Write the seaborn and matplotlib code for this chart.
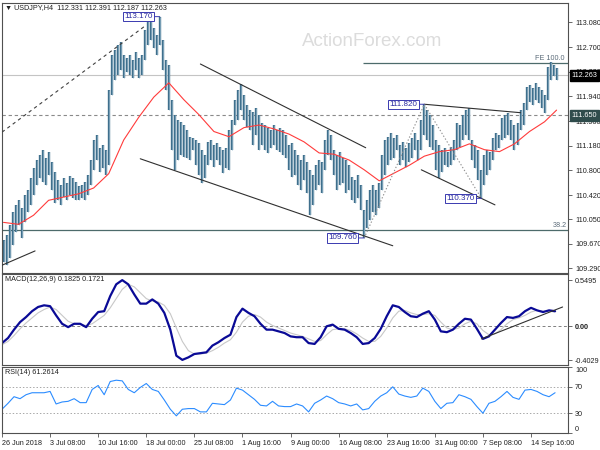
import numpy as np
import pandas as pd
import matplotlib
matplotlib.use("Agg")
import matplotlib.pyplot as plt
import seaborn as sns

# H4 price bars, one entry for every second candle (high / low)
bar_high = [
    109.73, 109.80, 109.96, 110.16, 110.27, 110.34, 110.22, 110.42, 110.50, 110.68,
    110.84, 110.96, 111.04, 111.12, 110.99, 111.09, 110.93, 110.78, 110.65, 110.58,
    110.68, 110.61, 110.71, 110.68, 110.62, 110.56, 110.58, 110.62, 110.73, 110.96,
    111.27, 111.35, 111.15, 111.19, 111.12, 112.04, 112.58, 112.66, 112.74, 112.78,
    112.58, 112.53, 112.58, 112.50, 112.63, 112.53, 112.58, 112.97, 113.12, 113.12,
    113.00, 112.89, 113.17, 112.81, 112.50, 112.43, 111.89, 111.66, 111.58, 111.55,
    111.50, 111.42, 111.32, 111.30, 111.27, 111.22, 111.12, 111.04, 111.24, 111.27,
    111.19, 111.22, 111.16, 111.12, 111.15, 111.42, 111.58, 111.89, 112.04, 112.13,
    111.96, 111.81, 111.73, 111.70, 111.76, 111.66, 111.53, 111.50, 111.46, 111.42,
    111.50, 111.42, 111.46, 111.42, 111.35, 111.19, 111.22, 111.12, 111.04, 110.96,
    111.04, 110.93, 110.81, 110.73, 110.88, 110.96, 110.93, 111.27, 111.42, 111.35,
    111.12, 111.04, 111.09, 110.99, 110.96, 110.88, 110.70, 110.65, 110.73, 110.58,
    110.19, 110.34, 110.50, 110.58, 110.50, 110.61, 111.04, 111.27, 111.32, 111.38,
    111.30, 111.35, 111.19, 111.24, 111.15, 111.22, 111.30, 111.38, 111.27, 111.58,
    111.82, 111.73, 111.66, 111.50, 111.27, 111.19, 111.12, 111.15, 111.09, 111.16,
    111.27, 111.53, 111.50, 111.66, 111.73, 111.76, 111.27, 111.19, 111.12, 110.81,
    111.04, 111.12, 111.09, 111.30, 111.38, 111.35, 111.61, 111.66, 111.69, 111.58,
    111.50, 111.53, 111.73, 111.84, 112.09, 112.12, 112.07, 112.15, 112.09, 112.04,
    111.96, 112.40, 112.47, 112.43, 112.38,
]
bar_low = [
    109.39, 109.34, 109.45, 109.65, 109.85, 109.96, 109.76, 110.00, 110.16, 110.27,
    110.42, 110.58, 110.68, 110.62, 110.58, 110.73, 110.50, 110.30, 110.34, 110.27,
    110.39, 110.34, 110.42, 110.37, 110.34, 110.34, 110.37, 110.34, 110.42, 110.58,
    110.81, 110.96, 110.78, 110.84, 110.73, 110.88, 111.96, 112.20, 112.27, 112.35,
    112.23, 112.32, 112.27, 112.23, 112.35, 112.23, 112.27, 112.50, 112.74, 112.81,
    112.69, 112.58, 112.74, 112.35, 112.04, 111.73, 111.12, 110.81, 110.96, 111.04,
    111.01, 110.99, 110.96, 111.12, 110.88, 110.73, 110.61, 110.68, 110.88, 110.96,
    110.85, 110.96, 110.88, 110.76, 110.84, 110.81, 111.12, 111.50, 111.58, 111.73,
    111.58, 111.47, 111.42, 111.19, 111.35, 111.12, 111.19, 111.12, 111.07, 111.15,
    111.19, 111.12, 111.09, 111.04, 110.99, 110.81, 110.70, 110.73, 110.58, 110.50,
    110.65, 110.45, 110.11, 110.27, 110.50, 110.58, 110.45, 110.81, 111.04, 110.96,
    110.73, 110.50, 110.58, 110.61, 110.45, 110.50, 110.34, 110.30, 110.37, 110.19,
    109.76, 109.91, 110.04, 110.16, 110.11, 110.22, 110.50, 110.73, 110.88, 110.96,
    110.99, 111.12, 110.88, 110.96, 110.85, 110.93, 110.99, 111.12, 110.96, 111.12,
    111.35, 111.27, 111.16, 111.12, 110.81, 110.68, 110.78, 110.88, 110.85, 110.88,
    110.96, 111.12, 111.16, 111.27, 111.35, 111.27, 110.96, 110.84, 110.65, 110.37,
    110.58, 110.73, 110.81, 110.96, 111.12, 111.15, 111.27, 111.30, 111.35, 111.27,
    111.12, 111.19, 111.42, 111.50, 111.73, 111.86, 111.81, 111.89, 111.84, 111.76,
    111.69, 111.89, 112.20, 112.26, 112.20,
]

# red moving average, read every 10 candles (last one at the final bar)
ma_values = [
    110.00, 109.97, 110.11, 110.34, 110.39, 110.44, 110.53, 110.75, 111.27, 111.62,
    111.93, 112.15, 111.89, 111.66, 111.40, 111.32, 111.46, 111.50, 111.44, 111.36,
    111.24, 111.07, 111.05, 110.96, 110.81, 110.64, 110.76, 110.88, 111.02, 111.09,
    111.12, 111.21, 111.12, 111.09, 111.21, 111.40, 111.55, 111.73,
]

# MACD(12,26,9) main and signal, read every 4 candles
macd_main = [
    -0.20, -0.14, -0.04, 0.05, 0.11, 0.18, 0.23, 0.25, 0.24, 0.13,
    0.03, -0.01, 0.03, 0.03, -0.01, 0.09, 0.17, 0.18, 0.36, 0.50,
    0.55, 0.50, 0.38, 0.27, 0.27, 0.32, 0.27, 0.16, -0.04, -0.35,
    -0.40, -0.37, -0.33, -0.32, -0.31, -0.23, -0.19, -0.14, -0.10, 0.11,
    0.21, 0.16, 0.12, 0.03, -0.04, -0.04, -0.06, -0.08, -0.12, -0.13,
    -0.13, -0.20, -0.21, -0.13, 0.00, 0.02, -0.03, -0.04, -0.08, -0.13,
    -0.21, -0.20, -0.14, -0.03, 0.12, 0.25, 0.23, 0.17, 0.12, 0.11,
    0.15, 0.18, 0.08, -0.06, -0.07, -0.04, 0.03, 0.09, 0.08, -0.03,
    -0.15, -0.12, -0.04, 0.04, 0.11, 0.10, 0.12, 0.18, 0.22, 0.19,
    0.17, 0.19, 0.18,
]
macd_signal = [
    -0.22, -0.18, -0.11, -0.03, 0.04, 0.10, 0.16, 0.20, 0.23, 0.20,
    0.13, 0.06, 0.03, 0.02, 0.01, 0.03, 0.08, 0.13, 0.22, 0.33,
    0.44, 0.50, 0.47, 0.40, 0.33, 0.30, 0.29, 0.25, 0.15, -0.02,
    -0.18, -0.29, -0.33, -0.33, -0.32, -0.29, -0.25, -0.20, -0.16, -0.07,
    0.05, 0.12, 0.14, 0.11, 0.05, 0.01, -0.02, -0.05, -0.08, -0.10,
    -0.12, -0.15, -0.18, -0.17, -0.10, -0.04, -0.03, -0.03, -0.05, -0.09,
    -0.14, -0.18, -0.18, -0.12, -0.02, 0.10, 0.18, 0.19, 0.16, 0.14,
    0.14, 0.15, 0.13, 0.05, -0.02, -0.04, -0.02, 0.03, 0.06, 0.03,
    -0.05, -0.10, -0.09, -0.04, 0.03, 0.08, 0.10, 0.13, 0.17, 0.19,
    0.18, 0.18, 0.17,
]

# RSI(14), read every 4 candles
rsi_values = [
    36, 45, 55, 52, 58, 61, 61, 61, 63, 44,
    47, 48, 52, 46, 46, 66, 72, 58, 78, 80,
    79, 66, 61, 69, 75, 66, 63, 50, 36, 26,
    36, 37, 37, 32, 32, 45, 44, 43, 50, 68,
    65, 58, 51, 42, 41, 48, 41, 40, 40, 44,
    41, 32, 45, 50, 56, 52, 46, 44, 41, 44,
    35, 37, 48, 56, 61, 70, 59, 56, 54, 56,
    68, 63, 48, 37, 45, 46, 58, 55, 51, 40,
    30, 45, 48, 55, 63, 54, 51, 65, 66, 63,
    58, 55, 61,
]

date_labels = ["26 Jun 2018", "3 Jul 08:00", "10 Jul 16:00", "18 Jul 00:00",
               "25 Jul 08:00", "1 Aug 16:00", "9 Aug 00:00", "16 Aug 08:00",
               "23 Aug 16:00", "31 Aug 00:00", "7 Sep 08:00", "14 Sep 16:00"]
price_ticks = [113.08, 112.70, 112.32, 111.94, 111.56, 111.18, 110.80,
               110.42, 110.05, 109.67, 109.29]

# drawn objects: (candle index, price) pairs
swing_labels = [("113.170", 52, 113.17), ("111.820", 140, 111.82),
                ("109.760", 120, 109.76), ("110.370", 159, 110.37)]
trend_dashed = ([0, 96], [111.39, 113.04])
channel_upper = ([132, 242], [112.44, 111.15])
channel_lower = ([92, 260], [110.98, 109.64])
early_support = ([0, 22], [109.34, 109.56])
tri_upper = ([281, 345], [111.82, 111.69])
tri_lower = ([279, 328], [110.81, 110.27])
dotted_legs = ([241, 281, 319], [109.76, 111.82, 110.37])
macd_trend = ([319, 373], [-0.15, 0.23])
fe_level, fe_start = 112.46, 240
fib_level = 109.88
support_level = 111.65
bid_price = 112.263

sns.set_theme(style="white")
plt.rcParams['font.family'] = ['Liberation Sans', 'DejaVu Sans']
FS = 5.2
frame = '#505050'

n = len(bar_high)
bars = pd.DataFrame({'bar': np.arange(n) * 2 + 1, 'high': bar_high, 'low': bar_low})
ma = pd.DataFrame({'bar': np.r_[np.arange(0, n - 4, 5), n - 1] * 2 + 1, 'ma': ma_values})
osc = pd.DataFrame({'bar': np.arange(len(macd_main)) * 4, 'macd': macd_main,
                    'signal': macd_signal, 'rsi': rsi_values})

fig = plt.figure(figsize=(6, 4.5), dpi=100)
ax_p = fig.add_axes([2 / 600, 177 / 450, 566 / 600, 270 / 450])
ax_m = fig.add_axes([2 / 600, 85 / 450, 566 / 600, 91 / 450])
ax_r = fig.add_axes([2 / 600, 17 / 450, 566 / 600, 66 / 450])
xmax = 376.6

for ax in (ax_p, ax_m, ax_r):
    ax.set_xlim(0, xmax)
    ax.set_facecolor('white')
    for s in ax.spines.values():
        s.set_color(frame)
        s.set_linewidth(0.8)
    ax.yaxis.tick_right()
    ax.tick_params(axis='y', which='both', right=True, left=False, length=3, width=0.6,
                   color=frame, labelsize=FS, pad=2, labelcolor='#202020')

# ---- price panel ----
ax_p.set_ylim(109.22, 113.38)
ax_p.text(0.654, 0.856, "ActionForex.com", transform=ax_p.transAxes, ha='center',
          va='center', fontsize=13.5, color='#dcdcdc', zorder=0)
ax_p.axhline(bid_price, color='#c4c4c4', lw=0.8, zorder=1)
ax_p.axhline(support_level, color='#8a8a8a', lw=0.8, ls=(0, (3, 2.5)), zorder=1)
ax_p.axhline(fib_level, color='#4d6b6b', lw=0.9, zorder=1)
ax_p.hlines(fe_level, fe_start, xmax, color='#4d6b6b', lw=0.9, zorder=1)
ax_p.vlines(bars['bar'], bars['low'], bars['high'], color='#3f6f8c', lw=1.7, zorder=2)
ax_p.vlines(bars['bar'], bars['low'], bars['high'], color='#8fb2c6', lw=0.5, zorder=2)
sns.lineplot(data=ma, x='bar', y='ma', ax=ax_p, color='#ff3b3b', lw=0.8, zorder=3)

for xs, ys in (channel_upper, channel_lower, early_support, tri_upper, tri_lower):
    ax_p.plot(xs, ys, color='#303030', lw=0.8, zorder=4)
ax_p.plot(*trend_dashed, color='#404040', lw=0.8, ls=(0, (3, 3)), zorder=4)
ax_p.plot(*dotted_legs, color='#909090', lw=0.8, ls=(0, (1.2, 1.8)), zorder=4)

for text, k, level in swing_labels:
    ax_p.annotate(text, xy=(bars['bar'][k], level), xytext=(-5, 0),
                  textcoords='offset points', ha='right', va='center', fontsize=5.8,
                  color='#2b2ba0',
                  bbox=dict(boxstyle='square,pad=0.15', fc='white', ec='#3a3ab0', lw=0.7),
                  arrowprops=dict(arrowstyle='-', color='#3a3ab0', lw=0.7,
                                  shrinkA=0, shrinkB=0), zorder=6)

ax_p.text(xmax - 2, fe_level + 0.015, "FE 100.0", ha='right', va='bottom',
          fontsize=FS, color='#5a6a78')
ax_p.text(xmax - 1, fib_level + 0.015, "38.2", ha='right', va='bottom',
          fontsize=FS, color='#5a6a78')
ax_p.text(0.006, 0.982, "\u25bc USDJPY,H4  112.331 112.391 112.187 112.263",
          transform=ax_p.transAxes, ha='left', va='center', fontsize=FS, color='#202020')

ax_p.set_yticks(price_ticks)
ax_p.set_yticklabels([f"{t:.3f}" for t in price_ticks])
ax_p.set_xticks([])
ax_p.set_xlabel('')
ax_p.set_ylabel('')
for level, fc in ((bid_price, '#000000'), (support_level, '#2f4c4c')):
    ax_p.annotate(f"{level:.3f}", xy=(1.0, level), xycoords=('axes fraction', 'data'),
                  xytext=(2.5, 0), textcoords='offset points', ha='left', va='center',
                  fontsize=FS, color='white', annotation_clip=False, zorder=10,
                  bbox=dict(boxstyle='square,pad=0.25', fc=fc, ec=fc))

# ---- MACD panel ----
ax_m.set_ylim(-0.461, 0.623)
ax_m.axhline(0, color='#808080', lw=0.7, ls=(0, (3, 2.5)))
sns.lineplot(data=osc, x='bar', y='signal', ax=ax_m, color='#c8c8c8', lw=0.8)
sns.lineplot(data=osc, x='bar', y='macd', ax=ax_m, color='#0a0a96', lw=1.6)
ax_m.plot(*macd_trend, color='#303030', lw=0.8)
ax_m.text(0.006, 0.935, "MACD(12,26,9) 0.1825 0.1721", transform=ax_m.transAxes,
          ha='left', va='center', fontsize=FS, color='#202020')
ax_m.set_yticks([0.5495, 0.0, -0.4029])
ax_m.set_yticklabels(["0.5495", "0.00", "-0.4029"])
ax_m.get_yticklabels()[1].set_fontweight('bold')
ax_m.set_xticks([])
ax_m.set_xlabel('')
ax_m.set_ylabel('')

# ---- RSI panel ----
ax_r.set_ylim(0, 100)
for lvl in (70, 30):
    ax_r.axhline(lvl, color='#a8a8a8', lw=0.7, ls=(0, (1.5, 2)))
sns.lineplot(data=osc, x='bar', y='rsi', ax=ax_r, color='#2b8cff', lw=0.8)
ax_r.text(0.006, 0.91, "RSI(14) 61.2614", transform=ax_r.transAxes,
          ha='left', va='center', fontsize=FS, color='#202020')
ax_r.set_yticks([100, 70, 30, 0])
ax_r.set_yticklabels(["100", "70", "30", "0"])
ylabs = ax_r.get_yticklabels()
ylabs[0].set_va('top')
ylabs[3].set_va('bottom')
ax_r.set_xticks(np.arange(len(date_labels)) * 32)
ax_r.set_xticklabels(date_labels)
ax_r.tick_params(axis='x', bottom=True, length=3, width=0.6, color=frame,
                 labelsize=FS, pad=2, labelcolor='#202020')
for lab in ax_r.get_xticklabels():
    lab.set_horizontalalignment('left')
ax_r.set_xlabel('')
ax_r.set_ylabel('')
ax_r.set_xlim(0, xmax)

fig.savefig('out.png', dpi=100, facecolor='white')
